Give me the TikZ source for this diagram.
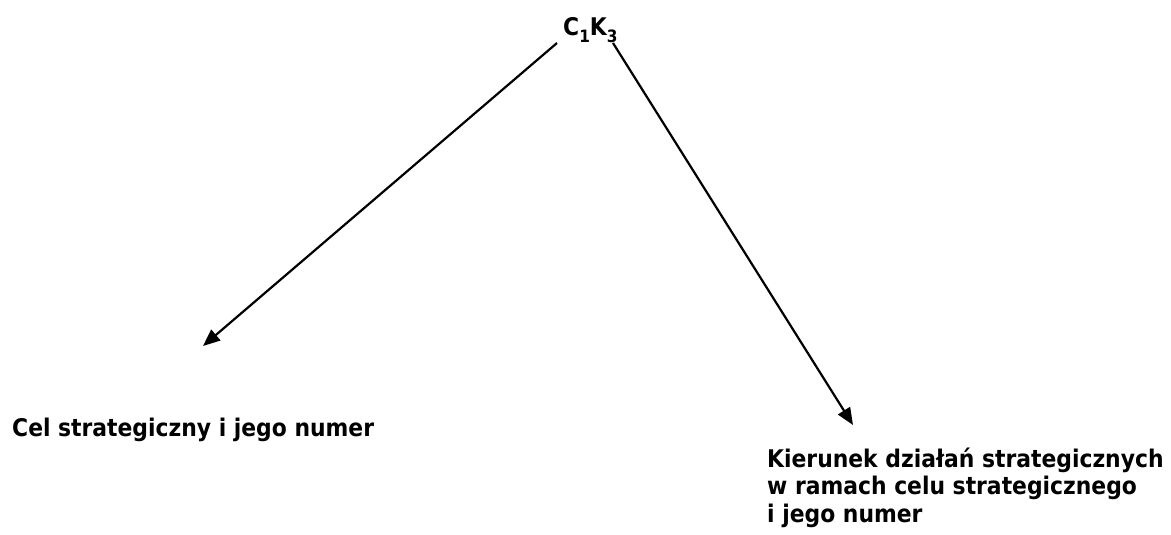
\documentclass[tikz,border=0pt]{standalone}
\usepackage{fontspec}
\setmainfont[FakeStretch=0.9]{DejaVu Sans}
\usetikzlibrary{arrows.meta}
\begin{document}
\begin{tikzpicture}[x=1pt,y=-1pt,
  lbl/.style={inner sep=0pt,anchor=base west,font=\bfseries\fontsize{24.3}{27.5}\selectfont},
  conn/.style={line width=2.2pt,-{Triangle[length=17pt,width=14pt]}}]
\useasboundingbox (0,0) rectangle (1171,535);
\newcommand{\subdig}[1]{\raisebox{-0.25em}{\fontsize{17}{17}\selectfont #1}}
\node[lbl] (top) at (563,36) {C\subdig{1}K\subdig{3}};
\node[lbl] (cel) at (12,436) {Cel strategiczny i jego numer};
\node[lbl,align=left] (kier) at (767,522) {Kierunek działań strategicznych\\w ramach celu strategicznego\\i jego numer};
\coordinate (s1) at (557,43);
\coordinate (s2) at (613,43);
\coordinate (e1) at (203,346);
\coordinate (e2) at (853,425);
\draw[conn] (s1) -- (e1);
\draw[conn] (s2) -- (e2);
\end{tikzpicture}
\end{document}
